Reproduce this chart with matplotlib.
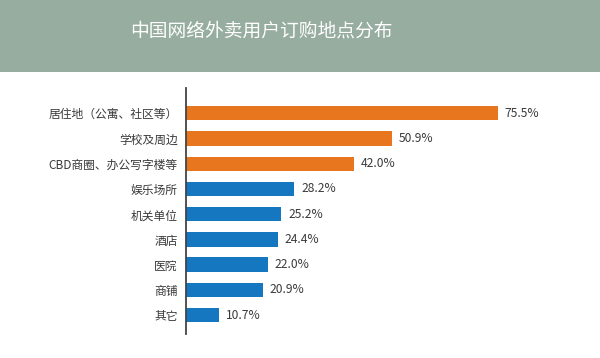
import matplotlib
matplotlib.use("Agg")
import matplotlib.pyplot as plt
from matplotlib.patches import Rectangle

plt.rcParams['font.family'] = ['Noto Sans CJK SC', 'DejaVu Sans']

title = "中国网络外卖用户订购地点分布"
categories = ["居住地（公寓、社区等）", "学校及周边", "CBD商圈、办公写字楼等", "娱乐场所",
              "机关单位", "酒店", "医院", "商铺", "其它"]
values = [75.5, 50.9, 42.0, 28.2, 25.2, 24.4, 22.0, 20.9, 10.7]
colors = ["#e8761f"] * 3 + ["#1577c0"] * 6

W, H = 600, 358
fig = plt.figure(figsize=(W / 100, H / 100), dpi=100)
fig.patch.set_facecolor("white")

# title band
fig.patches.append(Rectangle((0, (H - 72) / H), 1, 72 / H, transform=fig.transFigure,
                             facecolor="#97ad9f", edgecolor="none", zorder=0))
fig.text(261 / W, 1 - 31 / H, title, color="white", fontsize=13.5,
         ha="center", va="center")

ax = fig.add_axes([186 / W, (H - 334) / H, 374 / W, 246 / H])
ax.set_facecolor("none")
ypos = list(range(len(categories)))
ax.barh(ypos, values, height=0.57, color=colors, zorder=2)
ax.set_xlim(3, 90)
ax.set_ylim(8.75, -1.0)
ax.set_yticks(ypos, categories)
ax.tick_params(axis="y", length=0, pad=6, labelsize=8.5, labelcolor="#3a3a3a")
ax.set_xticks([])
for s in ["top", "right", "bottom"]:
    ax.spines[s].set_visible(False)
ax.spines["left"].set_color("#444444")
ax.spines["left"].set_linewidth(1.3)
ax.spines["left"].set_zorder(3)

for y, v in zip(ypos, values):
    ax.annotate(f"{v:.1f}%", (v, y), xytext=(5, 0), textcoords="offset points",
                ha="left", va="center", fontsize=8.7, color="#3a3a3a")

fig.savefig("out.png", dpi=100, facecolor=fig.get_facecolor())
